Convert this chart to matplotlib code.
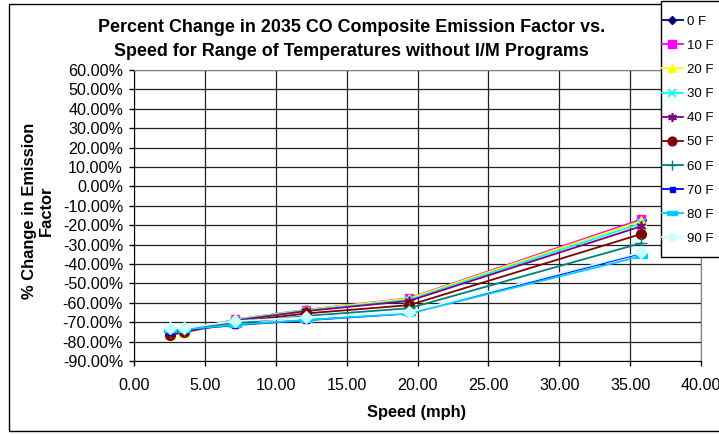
import numpy as np
import matplotlib.pyplot as plt
from matplotlib.path import Path
from matplotlib.patches import Rectangle

plt.rcParams['font.family'] = ['Liberation Sans', 'DejaVu Sans']

speed = [2.5, 3.5, 7.1, 12.1, 19.4, 35.8]
temps = ['0 F', '10 F', '20 F', '30 F', '40 F', '50 F', '60 F', '70 F', '80 F', '90 F']
pct_0f = [-76.5, -75.0, -68.8, -63.8, -58.0, -17.5]
pct_10f = [-76.3, -74.9, -68.6, -63.6, -57.6, -17.0]
pct_20f = [-76.2, -74.8, -68.6, -63.7, -57.8, -17.8]
pct_30f = [-76.0, -74.7, -68.8, -64.0, -58.5, -19.0]
pct_40f = [-75.8, -74.7, -69.2, -64.3, -59.0, -20.5]
pct_50f = [-76.5, -75.2, -70.0, -65.5, -61.2, -24.5]
pct_60f = [-75.0, -74.2, -70.5, -66.8, -62.8, -29.2]
pct_70f = [-74.8, -74.0, -71.5, -69.0, -65.5, -34.5]
pct_80f = [-74.2, -73.8, -71.3, -68.9, -65.5, -36.0]
pct_90f = [-73.0, -73.0, -69.5, -67.5, -64.8, -34.0]

series = [pct_0f, pct_10f, pct_20f, pct_30f, pct_40f,
          pct_50f, pct_60f, pct_70f, pct_80f, pct_90f]

# excel-ish default series styles
bar = Path([(-1, -0.35), (1, -0.35), (1, 0.35), (-1, 0.35), (-1, -0.35)])
styles = [
    dict(color='#000080', marker='D', ms=5),
    dict(color='#FF00FF', marker='s', ms=6),
    dict(color='#FFFF00', marker='^', ms=7),
    dict(color='#00FFFF', marker='x', ms=6, mew=1.2),
    dict(color='#800080', marker=(6, 2, 0), ms=7, mew=1.2),
    dict(color='#800000', marker='o', ms=7),
    dict(color='#008080', marker='+', ms=8, mew=1.0),
    dict(color='#0000FF', marker='s', ms=4),
    dict(color='#00CCFF', marker=bar, ms=8),
    dict(color='#CCFFFF', marker='D', ms=6),
]

W, H = 719, 434
fig = plt.figure(figsize=(W / 100, H / 100), dpi=100)
ax = fig.add_axes([134.3 / W, 1 - 361 / H, (701 - 134.3) / W, (361 - 70) / H])

handles = []
for vals, st, lab in zip(series, styles, temps):
    h, = ax.plot(speed, vals, lw=1.3, color=st['color'], marker=st['marker'],
                 markersize=st['ms'], markerfacecolor=st['color'],
                 markeredgecolor=st['color'], markeredgewidth=st.get('mew', 1.0),
                 label=lab, zorder=3)
    handles.append(h)

ax.set_xlim(0, 40)
ax.set_ylim(-90, 60)
ax.set_xticks(np.arange(0, 41, 5))
ax.set_yticks(np.arange(-90, 61, 10))
ax.set_xticklabels([f'{v:.2f}' for v in np.arange(0, 41, 5)], fontsize=11.6)
ax.set_yticklabels([f'{v:.2f}%' for v in np.arange(-90, 61, 10)], fontsize=11.6)
ax.grid(True, color='#202020', lw=0.9)
ax.set_axisbelow(True)
ax.tick_params(direction='out', length=3.6, width=1, color='black')
ax.tick_params(axis='x', pad=8.5)
ax.tick_params(axis='y', pad=4.5)
for side in ['top', 'right']:
    ax.spines[side].set_color('#808080')
for side in ['left', 'bottom']:
    ax.spines[side].set_color('black')

fig.text(352 / W, 1 - 27 / H, 'Percent Change in 2035 CO Composite Emission Factor vs.',
         ha='center', va='center', fontsize=12.9, fontweight='bold')
fig.text(351 / W, 1 - 52 / H, 'Speed for Range of Temperatures without I/M Programs',
         ha='center', va='center', fontsize=12.9, fontweight='bold')
fig.text(38 / W, 1 - 211 / H, '% Change in Emission\nFactor', rotation=90,
         ha='center', va='center', multialignment='center', fontsize=11.9,
         fontweight='bold', linespacing=1.15)
fig.text(417 / W, 1 - 413 / H, 'Speed (mph)', ha='center', va='center',
         fontsize=11.8, fontweight='bold')

# chart area frame
fig.patches.append(Rectangle((9 / W, 1 - 431 / H), 1.0, 427 / H,
                             transform=fig.transFigure, fill=False,
                             edgecolor='black', lw=1.0, zorder=0))

# legend box, drawn separately so the entries can sit inside it freely
fig.patches.append(Rectangle((661 / W, 1 - 257 / H), 70 / W, 256 / H,
                             transform=fig.transFigure, facecolor='white',
                             edgecolor='black', lw=1.0, zorder=5))
leg = fig.legend(handles=handles, loc='upper left',
                 bbox_to_anchor=(659 / W, 1 - 13 / H),
                 fontsize=9.5, frameon=False, borderaxespad=0,
                 borderpad=0.2, labelspacing=0.9, handlelength=1.6,
                 handletextpad=0.35, markerscale=0.9)
leg.set_zorder(6)

fig.savefig('out.png', dpi=100)
